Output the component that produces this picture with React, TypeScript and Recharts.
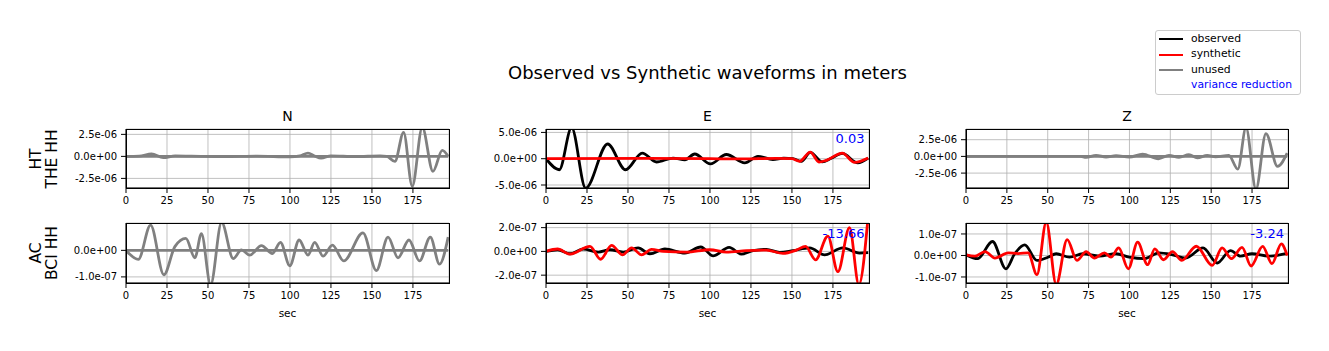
import React from 'react';
import { LineChart, Line, XAxis, YAxis, CartesianGrid } from 'recharts';

// time axis ticks shared by every panel (seconds)
const xTicks = [0, 25, 50, 75, 100, 125, 150, 175];
const xDomain: [number, number] = [0, 197];

// HT THE HH, component N (unused, amplitudes in 1e-6 m)
const htN_t = [0, 8, 15.6, 22.7, 30, 40, 60, 80, 100, 106, 111, 115, 119, 125, 140, 155, 159, 164, 169.3, 174.6, 180.7, 187.2, 192.9, 196.5];
const htN_obs = [0, 0.03, 0.27, -0.15, 0.05, 0.02, -0.03, 0.02, -0.05, 0.05, 0.38, 0.05, -0.2, 0.05, -0.02, 0.05, 0, -0.57, 2.73, -3.4, 3.3, -1.7, 0.68, 0];

// HT THE HH, component E (1e-6 m)
const htE_obs_t = [0, 8.1, 15.6, 24.2, 37.6, 48.5, 58.7, 67.4, 77.5, 84.7, 90.7, 100.3, 110, 121.2, 129.3, 138.4, 145, 150.6, 155.7, 161.2, 168.5, 174, 180.7, 190.2, 196.5];
const htE_obs = [0, -2.1, 5.9, -5.6, 2.8, -2.1, 1.08, -0.63, 0.13, -0.2, 0.9, -1.0, 0.8, -0.8, 0.45, -0.15, 0.1, 0, -0.5, 1.2, -0.6, 0.1, 1.0, -0.8, 0.1];
const htE_syn_t = [0, 60, 100, 120, 140, 150, 154.7, 161.2, 166.5, 171, 180.7, 188.2, 196.5];
const htE_syn = [0, 0.05, 0, -0.05, 0.05, 0, -0.5, 1.27, -0.63, -0.3, 1.08, -0.7, 0.13];

// HT THE HH, component Z (unused, 1e-6 m)
const htZ_t = [0, 70, 73.5, 79.6, 85.7, 91.8, 99.9, 108, 117.7, 124.2, 130.3, 136.4, 141.5, 147.6, 152.7, 160.8, 166.3, 171.3, 177.4, 183.5, 190.6, 196.5];
const htZ_obs = [0, 0, -0.15, 0.15, -0.1, 0.1, -0.1, 0.35, -0.35, 0.15, -0.15, 0.25, -0.2, 0.15, -0.05, 0.15, -1.9, 4.3, -4.9, 3.4, -1.5, 0.5];

// AC BCI HH, component N (unused, 1e-7 m)
const acN_t = [0, 7.5, 15, 23.1, 29.8, 36.5, 42, 46, 51.6, 58.3, 65.4, 70.4, 75.5, 82.6, 89.3, 94.2, 99.9, 105.6, 111, 115.1, 120.2, 125.9, 132.8, 144.5, 152.7, 159.8, 165.9, 172.6, 179, 185.6, 191.2, 196.5];
const acN_obs = [0, -0.34, 0.95, -0.92, 0.14, 0.45, -0.28, 0.63, -1.3, 1.05, -0.31, 0.02, -0.18, 0.18, -0.12, 0.3, -0.58, 0.39, -0.18, 0.3, -0.22, 0.2, -0.4, 0.66, -0.76, 0.5, -0.28, 0.39, -0.4, 0.5, -0.52, 0.5];

// AC BCI HH, component E (1e-7 m)
const acE_obs_t = [0, 7.1, 14.6, 22.7, 31.9, 39, 47.1, 56.2, 63.3, 72.5, 84.7, 94.4, 101.9, 111.7, 119.2, 126.3, 134.4, 142.5, 150.6, 160.8, 169.9, 181, 191.2, 196.5];
const acE_obs = [0, 0.14, -0.2, 0.2, -0.06, 0.14, -0.06, 0.29, -0.2, 0.2, -0.14, 0.37, -0.37, 0.34, -0.23, 0.06, 0.17, -0.09, 0.06, 0.29, -0.29, 0.29, -0.14, -0.1];
const acE_syn_t = [0, 7.1, 14.6, 26.8, 33.3, 40, 46.7, 52.2, 58.3, 64.4, 71.5, 85.7, 99.9, 110, 122.2, 134.4, 144.5, 152.7, 158.3, 164.4, 171.9, 178, 185.1, 190.8, 196.5];
const acE_syn = [0, 0.2, -0.23, 0.43, -0.66, 0.51, -0.29, 0.29, -0.29, 0.17, 0, -0.06, 0.14, -0.06, 0.06, 0.11, -0.17, 0.11, 0.43, -0.71, 1.29, -1.71, 2.0, -2.8, 3.0];

// AC BCI HH, component Z (1e-7 m)
const acZ_obs_t = [0, 7.1, 16.2, 24.4, 29.8, 35.9, 43.4, 50.1, 55.2, 63.3, 71.5, 81.6, 91.8, 99.9, 109, 118.1, 126.3, 134.4, 145, 153.7, 161.8, 167.9, 175, 185.1, 196.5];
const acZ_obs = [0.03, -0.15, 0.65, -0.62, 0.08, 0.49, -0.23, -0.08, 0.08, -0.08, 0.08, -0.03, 0.08, -0.08, -0.15, 0.12, 0.03, -0.12, 0.35, -0.35, 0.23, -0.03, 0.08, -0.03, 0.1];
const acZ_syn_t = [0, 5.5, 11.6, 17.7, 25.8, 31.9, 38, 43.4, 49.1, 55.2, 61.9, 67.9, 73.5, 78.6, 84.7, 88.7, 93.4, 99.3, 105, 111.1, 115.5, 120.8, 126.3, 132, 140.9, 150.6, 156.7, 162.4, 168.9, 174.4, 181.5, 187.2, 192.9, 196.5];
const acZ_syn = [0.03, -0.03, 0.18, -0.12, 0.12, 0.09, 0.12, -0.89, 1.55, -1.35, 0.74, -0.23, 0.18, -0.12, 0.12, -0.08, 0.35, -0.62, 0.62, -0.43, 0.31, -0.2, 0.18, -0.23, 0.43, -0.46, 0.35, -0.15, 0.38, -0.49, 0.42, -0.38, 0.54, 0];

// flat synthetic trace for the unused components
const flat_t = [0, 196.5];
const flat_v = [0, 0];

const varianceReduction = ['0.03', '-13.66', '-3.24'];

const BLACK = '#000000';
const RED = '#ff0000';
const GRAY = '#808080';
const BLUE = '#0000ff';

function rows(t: number[], v: number[], scale: number) {
  return t.map((x, i) => ({ t: x, v: v[i] * scale }));
}

function sci(val: number) {
  if (val === 0) return '0.0e+00';
  const [m, e] = val.toExponential(1).split('e');
  const n = parseInt(e, 10);
  return m + 'e' + (n < 0 ? '-' : '+') + String(Math.abs(n)).padStart(2, '0');
}

type Trace = { t: number[]; v: number[]; color: string };

const YW = 75;
const XH = 22;
const TICK_FONT = 10;

function Panel({ x, y, w, h, domain, yTicks, scale, traces }: {
  x: number; y: number; w: number; h: number;
  domain: [number, number]; yTicks: number[]; scale: number; traces: Trace[];
}) {
  return (
    <>
      <div style={{ position: 'absolute', left: x - YW, top: y - 1 }}>
        <LineChart width={YW + w + 1} height={h + 1 + XH} margin={{ top: 1, right: 1, left: 0, bottom: 0 }}>
          <CartesianGrid stroke="#b0b0b0" strokeWidth={0.8} />
          <XAxis dataKey="t" type="number" domain={xDomain} ticks={xTicks} interval={0} allowDataOverflow
            height={XH} tickSize={5} tickMargin={4} stroke={BLACK}
            tick={{ fontSize: TICK_FONT, fill: BLACK }} />
          <YAxis type="number" domain={domain} ticks={yTicks} interval={0} allowDataOverflow
            width={YW} tickSize={5} tickMargin={4} stroke={BLACK} tickFormatter={sci}
            tick={{ fontSize: TICK_FONT, fill: BLACK }} />
          {traces.map((tr, i) => (
            <Line key={i} data={rows(tr.t, tr.v, scale)} dataKey="v" type="monotone"
              stroke={tr.color} strokeWidth={2.8} dot={false} isAnimationActive={false} />
          ))}
        </LineChart>
      </div>
      {/* axes frame (matplotlib spines) */}
      <div style={{ position: 'absolute', left: x - 0.5, top: y - 0.5, width: w + 1, height: h + 1, border: '1px solid #000', boxSizing: 'border-box', pointerEvents: 'none' }} />
    </>
  );
}

function Txt({ x, y, size, anchor = 'middle', color = BLACK, children }: {
  x: number; y: number; size: number; anchor?: 'start' | 'middle' | 'end'; color?: string; children: React.ReactNode;
}) {
  const shift = anchor === 'middle' ? '-50%' : anchor === 'end' ? '-100%' : '0';
  return (
    <div style={{
      position: 'absolute', left: x, top: y - 0.846 * size, fontSize: size, lineHeight: `${size}px`,
      color, whiteSpace: 'nowrap', transform: `translateX(${shift})`,
    }}>{children}</div>
  );
}

function RowLabel({ cy, lines }: { cy: number; lines: string }) {
  return (
    <div style={{
      position: 'absolute', left: 44, top: cy, fontSize: 15.5, lineHeight: '15.5px', whiteSpace: 'pre',
      textAlign: 'center', transform: 'translate(-50%, -50%) rotate(-90deg)',
    }}>{lines}</div>
  );
}

const cols = [126, 546, 966];
const colW = [323, 323, 322];
const rowY = [129, 223];
const rowH = [59, 60];

export default function App() {
  const legendRows = [
    { label: 'observed', color: BLACK },
    { label: 'synthetic', color: RED },
    { label: 'unused', color: GRAY },
  ];
  return (
    <div style={{ position: 'absolute', left: 0, top: 0, width: 1329, height: 351, background: '#fff', fontFamily: '"DejaVu Sans", sans-serif', overflow: 'hidden' }}>
      <Txt x={707.5} y={79} size={18}>Observed vs Synthetic waveforms in meters</Txt>

      <Txt x={287.5} y={121} size={14}>N</Txt>
      <Txt x={707.5} y={121} size={14}>E</Txt>
      <Txt x={1127} y={121} size={14}>Z</Txt>

      <RowLabel cy={158.5} lines={'HT\nTHE HH'} />
      <RowLabel cy={253} lines={'AC\nBCI HH'} />

      <Panel x={cols[0]} y={rowY[0]} w={colW[0]} h={rowH[0]} scale={1e-6}
        domain={[-3.59e-6, 3.11e-6]} yTicks={[-2.5e-6, 0, 2.5e-6]}
        traces={[{ t: htN_t, v: htN_obs, color: GRAY }, { t: flat_t, v: flat_v, color: GRAY }]} />
      <Panel x={cols[1]} y={rowY[0]} w={colW[1]} h={rowH[0]} scale={1e-6}
        domain={[-5.57e-6, 5.65e-6]} yTicks={[-5e-6, 0, 5e-6]}
        traces={[{ t: htE_obs_t, v: htE_obs, color: BLACK }, { t: htE_syn_t, v: htE_syn, color: RED }]} />
      <Panel x={cols[2]} y={rowY[0]} w={colW[2]} h={rowH[0]} scale={1e-6}
        domain={[-4.73e-6, 4.1e-6]} yTicks={[-2.5e-6, 0, 2.5e-6]}
        traces={[{ t: htZ_t, v: htZ_obs, color: GRAY }, { t: flat_t, v: flat_v, color: GRAY }]} />

      <Panel x={cols[0]} y={rowY[1]} w={colW[0]} h={rowH[1]} scale={1e-7}
        domain={[-1.23e-7, 1.03e-7]} yTicks={[-1e-7, 0]}
        traces={[{ t: acN_t, v: acN_obs, color: GRAY }, { t: flat_t, v: flat_v, color: GRAY }]} />
      <Panel x={cols[1]} y={rowY[1]} w={colW[1]} h={rowH[1]} scale={1e-7}
        domain={[-2.66e-7, 2.39e-7]} yTicks={[-2e-7, 0, 2e-7]}
        traces={[{ t: acE_obs_t, v: acE_obs, color: BLACK }, { t: acE_syn_t, v: acE_syn, color: RED }]} />
      <Panel x={cols[2]} y={rowY[1]} w={colW[2]} h={rowH[1]} scale={1e-7}
        domain={[-1.28e-7, 1.51e-7]} yTicks={[-1e-7, 0, 1e-7]}
        traces={[{ t: acZ_obs_t, v: acZ_obs, color: BLACK }, { t: acZ_syn_t, v: acZ_syn, color: RED }]} />

      <Txt x={864.5} y={142.5} size={13} anchor="end" color={BLUE}>{varianceReduction[0]}</Txt>
      <Txt x={864.5} y={238} size={13} anchor="end" color={BLUE}>{varianceReduction[1]}</Txt>
      <Txt x={1284} y={237.7} size={13} anchor="end" color={BLUE}>{varianceReduction[2]}</Txt>

      <Txt x={287.5} y={317.3} size={10.5}>sec</Txt>
      <Txt x={707.5} y={317.3} size={10.5}>sec</Txt>
      <Txt x={1127} y={317.3} size={10.5}>sec</Txt>

      <div style={{ position: 'absolute', left: 1155, top: 30, width: 144, height: 63, border: '1px solid #cccccc', borderRadius: 3, background: 'rgba(255,255,255,0.8)' }}>
        {legendRows.map((r, i) => (
          <React.Fragment key={r.label}>
            <div style={{ position: 'absolute', left: 3, top: 7.3 + i * 15.5, width: 24, height: 2, background: r.color }} />
            <Txt x={35} y={11.8 + i * 15.5} size={10.8} anchor="start">{r.label}</Txt>
          </React.Fragment>
        ))}
        <Txt x={35} y={11.8 + 3 * 15.5} size={10.8} anchor="start" color={BLUE}>variance reduction</Txt>
      </div>
    </div>
  );
}
